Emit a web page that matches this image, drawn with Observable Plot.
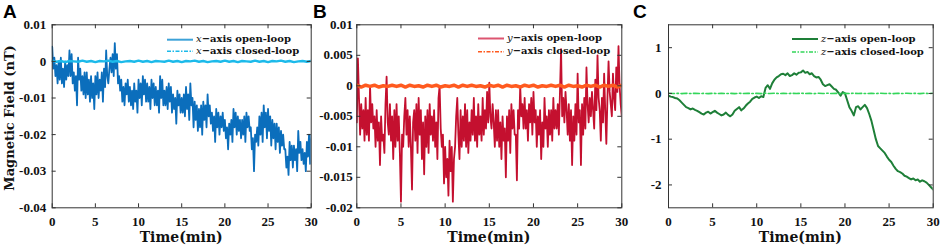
<!DOCTYPE html>
<html><head><meta charset="utf-8">
<script src="https://cdn.jsdelivr.net/npm/d3@7"></script>
<script src="https://cdn.jsdelivr.net/npm/@observablehq/plot@0.6"></script>
<style>
body{margin:0;background:#fff;}
#wrap{position:relative;width:941px;height:246px;overflow:hidden;font-family:"Liberation Serif",serif;color:#111;}
.panel{position:absolute;top:0;}
.letter{position:absolute;font-family:"Liberation Sans",Arial,sans-serif;font-weight:bold;font-size:19px;line-height:19px;color:#000;}
.xlab{position:absolute;font-family:"DejaVu Serif",serif;font-weight:bold;font-size:14px;line-height:12px;text-align:center;width:200px;}
.ylab{position:absolute;font-family:"DejaVu Serif",serif;font-weight:bold;font-size:13px;line-height:14px;white-space:nowrap;transform:translate(-50%,-50%) rotate(-90deg);}
.leg{position:absolute;font-family:"DejaVu Serif",serif;font-weight:bold;font-size:10px;line-height:10px;white-space:nowrap;}
.leg i{font-weight:normal;}
#legsvg{position:absolute;left:0;top:0;}
</style></head>
<body><div id="wrap"></div>
<script>
// ---- data ----
const xTicks = [0, 5, 10, 15, 20, 25, 30];

// open-loop samples every 0.125 min
const openA = [
0.004,-0.002,0.001,-0.004,-0.001,-0.006,0.000,-0.005,
0.001,-0.006,-0.002,-0.007,0.000,-0.005,-0.001,-0.004,
0.003,-0.004,0.002,-0.006,-0.003,-0.008,-0.004,-0.012,
0.001,-0.005,-0.002,-0.008,-0.004,-0.009,-0.003,-0.010,
-0.003,-0.009,-0.005,-0.011,-0.004,-0.010,-0.006,-0.013,
-0.004,-0.009,-0.003,-0.010,-0.005,-0.008,-0.003,-0.011,
-0.002,-0.007,0.003,-0.004,-0.006,-0.002,0.001,-0.003,
0.002,-0.004,0.005,-0.002,0.002,-0.006,-0.004,-0.008,
-0.005,-0.011,-0.007,-0.012,-0.006,-0.009,-0.005,-0.011,
-0.007,-0.012,-0.008,-0.013,-0.006,-0.011,-0.008,-0.014,
-0.005,-0.010,-0.006,-0.012,-0.004,-0.009,-0.005,-0.011,
-0.006,-0.011,-0.007,-0.013,-0.005,-0.010,-0.006,-0.012,
-0.007,-0.012,-0.008,-0.014,-0.004,-0.010,-0.005,-0.012,
-0.008,-0.012,-0.007,-0.013,-0.006,-0.011,-0.007,-0.014,
-0.009,-0.013,-0.010,-0.017,-0.008,-0.012,-0.009,-0.014,
-0.010,-0.014,-0.009,-0.015,-0.007,-0.013,-0.009,-0.016,
-0.006,-0.012,-0.010,-0.018,-0.011,-0.016,-0.012,-0.019,
-0.013,-0.018,-0.012,-0.020,-0.011,-0.016,-0.012,-0.018,
-0.009,-0.015,-0.012,-0.017,-0.014,-0.019,-0.015,-0.022,
-0.013,-0.018,-0.014,-0.020,-0.015,-0.018,-0.014,-0.019,
-0.016,-0.021,-0.018,-0.024,-0.017,-0.020,-0.016,-0.022,
-0.013,-0.018,-0.014,-0.020,-0.015,-0.019,-0.016,-0.021,
-0.016,-0.020,-0.015,-0.022,-0.014,-0.018,-0.015,-0.019,
-0.018,-0.024,-0.021,-0.030,-0.020,-0.022,-0.018,-0.023,
-0.015,-0.020,-0.014,-0.022,-0.012,-0.018,-0.014,-0.021,
-0.013,-0.019,-0.015,-0.023,-0.016,-0.021,-0.017,-0.024,
-0.017,-0.022,-0.018,-0.025,-0.019,-0.023,-0.020,-0.024,
-0.024,-0.029,-0.026,-0.031,-0.022,-0.027,-0.023,-0.029,
-0.023,-0.027,-0.024,-0.030,-0.019,-0.025,-0.022,-0.027,
-0.024,-0.028,-0.025,-0.030,-0.022,-0.026,-0.020,-0.028,
-0.020];

// closed-loop samples every 0.5 min
const closedA = [
0.0002,-0.0001,0.0001,-0.0002,0.0001,0.0000,-0.0001,0.0002,-0.0001,0.0001,
-0.0002,0.0001,0.0000,0.0002,-0.0001,0.0001,-0.0002,0.0000,0.0001,-0.0001,
0.0002,-0.0001,0.0001,-0.0002,0.0001,0.0000,-0.0001,0.0002,-0.0001,0.0001,
-0.0002,0.0001,0.0000,0.0002,-0.0001,0.0001,-0.0002,0.0000,0.0001,-0.0001,
0.0002,-0.0001,0.0001,-0.0002,0.0001,0.0000,-0.0001,0.0002,-0.0001,0.0001,
-0.0002,0.0001,0.0000,0.0002,-0.0001,0.0001,-0.0002,0.0000,0.0001,-0.0001,0.0001];

const openB = [
-0.006,0.0045,-0.002,-0.008,-0.003,-0.007,-0.004,-0.009,
-0.002,-0.008,-0.004,-0.009,0.000,-0.006,-0.003,-0.007,
-0.005,-0.010,-0.004,-0.009,-0.006,-0.013,-0.005,-0.009,
-0.008,-0.011,-0.003,0.0015,-0.006,-0.008,-0.003,-0.009,
-0.005,-0.012,-0.004,-0.010,-0.003,-0.009,-0.005,-0.011,
-0.019,-0.008,-0.010,-0.005,-0.002,-0.008,-0.004,-0.010,
-0.005,-0.010,-0.017,-0.006,-0.004,-0.009,-0.003,-0.011,
-0.002,-0.008,-0.004,-0.012,-0.006,-0.0145,-0.005,-0.010,
-0.004,-0.011,-0.003,-0.008,-0.005,-0.009,-0.004,-0.010,
-0.006,-0.012,-0.002,0.000,-0.007,-0.010,-0.008,-0.016,
-0.010,-0.015,-0.012,-0.018,-0.009,-0.014,-0.010,-0.019,
-0.012,-0.010,-0.005,-0.002,-0.008,-0.012,-0.004,-0.010,
-0.005,-0.009,-0.003,-0.010,-0.004,-0.011,-0.006,-0.009,
-0.004,-0.008,-0.002,-0.009,-0.005,-0.010,-0.003,-0.008,
-0.005,-0.009,-0.002,-0.008,-0.004,-0.007,-0.001,-0.006,
0.0005,-0.005,-0.007,-0.003,-0.006,-0.010,-0.004,-0.009,
-0.004,-0.010,-0.006,-0.012,-0.005,-0.009,-0.007,-0.015,
-0.005,-0.009,-0.004,-0.011,-0.003,-0.007,-0.004,-0.008,
-0.008,-0.0155,-0.004,-0.007,0.000,-0.005,-0.003,-0.007,
-0.002,-0.007,-0.004,-0.009,-0.003,-0.006,-0.002,-0.008,
-0.001,-0.006,-0.004,-0.010,-0.005,-0.008,-0.004,-0.012,
-0.006,-0.010,-0.002,-0.007,-0.005,-0.010,-0.004,-0.008,
-0.004,-0.009,-0.002,-0.007,-0.004,-0.007,-0.003,-0.008,
-0.001,0.006,-0.005,-0.002,-0.006,-0.001,-0.004,-0.008,
-0.003,-0.009,-0.004,-0.013,-0.005,-0.009,-0.003,-0.008,
0.002,-0.006,-0.004,-0.013,-0.003,-0.008,-0.002,-0.007,
0.003,-0.003,-0.006,-0.002,-0.005,-0.001,-0.004,-0.007,
0.001,-0.004,0.005,-0.002,-0.004,-0.009,-0.002,-0.006,
0.002,-0.004,-0.0095,-0.002,0.004,-0.001,-0.003,-0.005,
0.002,-0.002,-0.004,0.003,-0.001,0.0065,0.000,-0.003,
-0.005];

const closedB = [
0.0001,-0.0002,0.0001,-0.0001,0.0001,-0.0002,0.0000,-0.0001,0.0001,-0.0001,
0.0001,-0.0002,0.0001,-0.0001,0.0000,-0.0002,0.0001,-0.0001,0.0001,-0.0002,
0.0000,-0.0001,0.0001,-0.0002,0.0001,-0.0001,0.0001,-0.0001,0.0000,-0.0002,
0.0001,-0.0001,0.0001,-0.0002,0.0001,-0.0001,0.0000,-0.0002,0.0001,-0.0001,
0.0001,-0.0002,0.0000,-0.0001,0.0001,-0.0001,0.0001,-0.0002,0.0001,-0.0001,
0.0000,-0.0002,0.0001,-0.0001,0.0001,-0.0002,0.0001,-0.0001,0.0001,-0.0002,0.0001];

const openC = [
-0.05,-0.07,-0.08,-0.10,
-0.11,-0.15,-0.20,-0.25,
-0.30,-0.32,-0.35,-0.33,
-0.36,-0.38,-0.41,-0.44,
-0.46,-0.42,-0.40,-0.44,
-0.41,-0.38,-0.42,-0.45,
-0.48,-0.46,-0.42,-0.47,
-0.50,-0.46,-0.38,-0.34,
-0.30,-0.37,-0.33,-0.27,
-0.22,-0.18,-0.12,-0.09,
-0.07,-0.10,-0.06,-0.08,
0.12,0.18,0.10,0.22,
0.30,0.35,0.38,0.42,
0.43,0.40,0.44,0.38,
0.40,0.44,0.41,0.45,
0.46,0.50,0.45,0.47,
0.42,0.44,0.38,0.35,
0.36,0.30,0.20,0.16,
0.18,0.20,0.15,0.10,
0.08,0.02,-0.05,0.03,
0.00,-0.15,-0.30,-0.38,
-0.48,-0.30,-0.28,-0.35,
-0.30,-0.25,-0.32,-0.45,
-0.60,-0.80,-1.00,-1.15,
-1.20,-1.25,-1.30,-1.38,
-1.45,-1.50,-1.58,-1.65,
-1.70,-1.72,-1.75,-1.80,
-1.82,-1.85,-1.88,-1.86,
-1.90,-1.88,-1.93,-1.90,
-1.92,-1.95,-2.00,-2.05,
-2.10];

const closedC = [
0.004,-0.003,0.002,-0.004,0.003,-0.002,0.004,-0.003,0.002,-0.004,
0.003,-0.002,0.004,-0.003,0.002,-0.004,0.003,-0.002,0.004,-0.003,
0.002,-0.004,0.003,-0.002,0.004,-0.003,0.002,-0.004,0.003,-0.002,
0.004,-0.003,0.002,-0.004,0.003,-0.002,0.004,-0.003,0.002,-0.004,
0.003,-0.002,0.004,-0.003,0.002,-0.004,0.003,-0.002,0.004,-0.003,
0.002,-0.004,0.003,-0.002,0.004,-0.003,0.002,-0.004,0.003,-0.002,0.003];

const yTicksA = [0.01, 0, -0.01, -0.02, -0.03, -0.04];
const yLabelsA = ["0.01", "0", "-0.01", "-0.02", "-0.03", "-0.04"];
const yTicksB = [0.01, 0.005, 0, -0.005, -0.01, -0.015, -0.02];
const yLabelsB = ["0.01", "0.005", "0", "-0.005", "-0.01", "-0.015", "-0.02"];
const yTicksC = [1, 0, -1, -2];
const yLabelsC = ["1", "0", "-1", "-2"];

const seriesNames = [
  ["x", "open-loop", "closed-loop"],
  ["y", "open-loop", "closed-loop"],
  ["z", "open-loop", "closed-loop"]
];

// ---- build ----
const tFine = d3.range(0, 30.0001, 0.125);
const tMid = d3.range(0, 30.0001, 0.25);
const tClosed = d3.range(0, 30.0001, 0.5);
const toRows = (vals, ts) => vals.map((v, i) => ({t: ts[i], v}));

const panels = [
  {left: 0, width: 320, mL: 51.7, mR: 9.3, yDom: [-0.04, 0.01], yTicks: yTicksA, yLabels: yLabelsA, pad: 6,
   open: openA, tOpen: tFine, ow: 1.8, closed: closedA, cOpen: "#0B6EBC", cClosed: "#1CBAEA", legOpen: "#3DA2D8", cw: 2.4, dash: null,
   letter: "A", letterX: 3, legX: 167, legY: [39.7, 51.3]},
  {left: 310, width: 320, mL: 46.3, mR: 8.7, yDom: [-0.02, 0.01], yTicks: yTicksB, yLabels: yLabelsB, pad: 4,
   open: openB, tOpen: tFine, ow: 1.8, closed: closedB, cOpen: "#C4102F", cClosed: "#FF5A1F", legOpen: "#DC5570", cw: 3.5, dash: null,
   letter: "B", letterX: 313, legX: 478, legY: [38.5, 51.7]},
  {left: 620, width: 321, mL: 48, mR: 8.3, yDom: [-2.5, 1.5], yTicks: yTicksC, yLabels: yLabelsC, pad: 7,
   open: openC, tOpen: tMid, ow: 2, closed: closedC, cOpen: "#1E7F38", cClosed: "#33D65A", legOpen: "#1E7F38", cw: 1.6, dash: "6,2.5,1.5,2.5",
   letter: "C", letterX: 633, legX: 792, legY: [39, 52]}
];

const wrap = document.getElementById("wrap");
const mT = 24.3, mB = 38.7, H = 246;
const legSvg = d3.create("svg").attr("id", "legsvg").attr("width", 941).attr("height", 246);

panels.forEach((p, k) => {
  const yr = p.yDom[1] - p.yDom[0];
  const plotH = H - mT - mB, plotW = p.width - p.mL - p.mR;
  const ty = yr * 4 / plotH, tx = 30 * 4 / plotW;
  const labelMap = new Map(p.yTicks.map((d, i) => [d, p.yLabels[i]]));
  const chart = Plot.plot({
    width: p.width, height: H,
    marginLeft: p.mL, marginRight: p.mR, marginTop: mT, marginBottom: mB,
    x: {domain: [0, 30]},
    y: {domain: p.yDom},
    style: {background: "transparent", fontFamily: "'Liberation Serif', serif", fontWeight: "bold", fontSize: "13px", color: "#111", overflow: "visible"},
    marks: [
      Plot.line(toRows(p.open, p.tOpen), {x: "t", y: "v", stroke: p.cOpen, strokeWidth: p.ow, clip: true}),
      Plot.line(toRows(p.closed, tClosed), {x: "t", y: "v", stroke: p.cClosed, strokeWidth: p.cw, strokeDasharray: p.dash, clip: true}),
      Plot.frame({stroke: "#333", strokeWidth: 1}),
      Plot.ruleX(xTicks, {y1: p.yDom[0], y2: p.yDom[0] + ty, stroke: "#333"}),
      Plot.ruleX(xTicks, {y1: p.yDom[1], y2: p.yDom[1] - ty, stroke: "#333"}),
      Plot.ruleY(p.yTicks, {x1: 0, x2: tx, stroke: "#333"}),
      Plot.ruleY(p.yTicks, {x1: 30, x2: 30 - tx, stroke: "#333"}),
      Plot.axisX({ticks: xTicks, tickSize: 0, tickPadding: 8.5, tickFormat: d => String(d), label: null}),
      Plot.axisY({ticks: p.yTicks, tickSize: 0, tickPadding: p.pad, tickFormat: d => labelMap.get(d), label: null})
    ]
  });
  const div = document.createElement("div");
  div.className = "panel";
  div.style.left = p.left + "px";
  div.appendChild(chart);
  wrap.appendChild(div);

  const L = document.createElement("div");
  L.className = "letter";
  L.style.left = p.letterX + "px"; L.style.top = "2px";
  L.textContent = p.letter;
  wrap.appendChild(L);

  const cx = p.left + p.mL + plotW / 2;
  const xl = document.createElement("div");
  xl.className = "xlab";
  xl.style.left = (cx - 100) + "px"; xl.style.top = "231px";
  xl.textContent = "Time(min)";
  wrap.appendChild(xl);

  const nm = seriesNames[k];
  [0, 1].forEach(j => {
    const y = p.legY[j];
    legSvg.append("line").attr("x1", p.legX).attr("x2", p.legX + 26).attr("y1", y).attr("y2", y)
      .attr("stroke", j === 0 ? p.legOpen : p.cClosed)
      .attr("stroke-width", j === 0 ? 2 : 1.5)
      .attr("stroke-dasharray", j === 0 ? null : "4,1.5,1.5,1.5");
    const t = document.createElement("div");
    t.className = "leg";
    t.style.left = (p.legX + 29) + "px";
    t.style.top = (y - 5.5) + "px";
    t.innerHTML = "<i>" + nm[0] + "</i>\u2212axis " + nm[j + 1];
    wrap.appendChild(t);
  });
});
wrap.appendChild(legSvg.node());

const yl = document.createElement("div");
yl.className = "ylab";
yl.style.left = "10px"; yl.style.top = "118px";
yl.textContent = "Magnetic Field (nT)";
wrap.appendChild(yl);
</script>
</body></html>
